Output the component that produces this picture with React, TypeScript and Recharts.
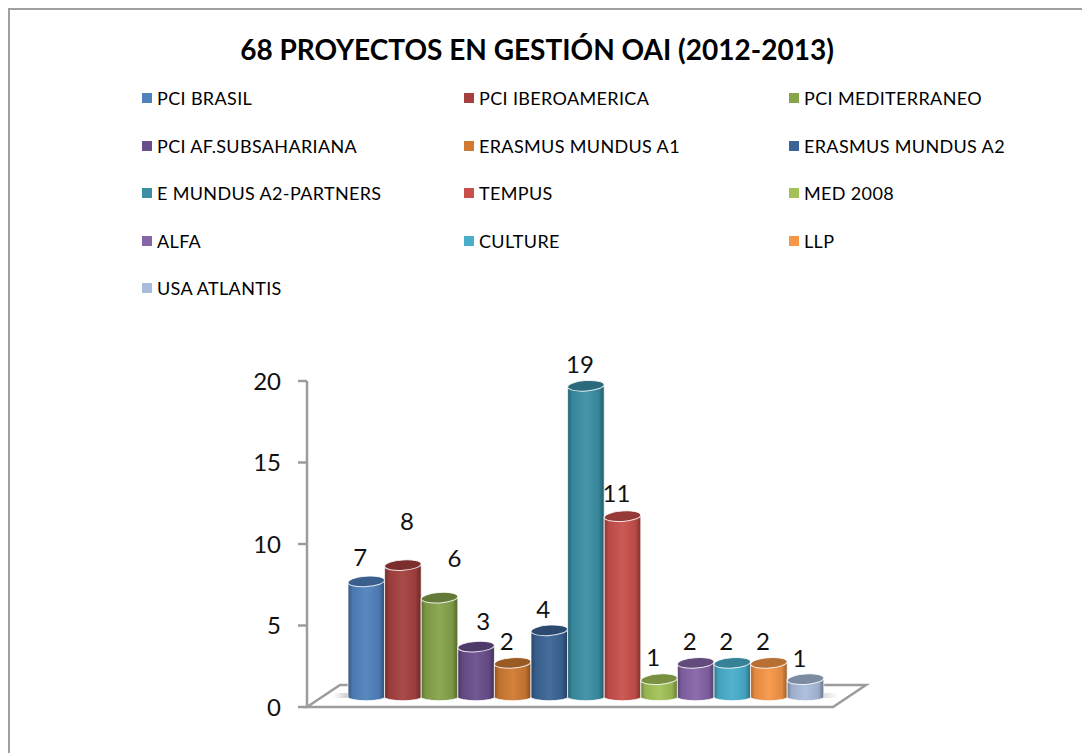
import React from 'react';
import { BarChart, Bar, XAxis, YAxis, Legend, LabelList, Customized } from 'recharts';

const chartTitle = '68 PROYECTOS EN GESTIÓN OAI (2012-2013)';
const seriesNames = ['PCI BRASIL', 'PCI IBEROAMERICA', 'PCI MEDITERRANEO', 'PCI AF.SUBSAHARIANA', 'ERASMUS MUNDUS A1', 'ERASMUS MUNDUS A2', 'E MUNDUS A2-PARTNERS', 'TEMPUS', 'MED 2008', 'ALFA', 'CULTURE', 'LLP', 'USA ATLANTIS'];
const seriesValues = [7, 8, 6, 3, 2, 4, 19, 11, 1, 2, 2, 2, 1];
const seriesColors = ['#4F81BD', '#A5403E', '#86A44A', '#6A4E8C', '#D07A31', '#3B6496', '#3A8FA5', '#C94F4C', '#A2C257', '#8664A8', '#48AECB', '#F79646', '#A9BCDB'];
const yTicks = [0, 5, 10, 15, 20];
const labelNudges: [number, number][] = [[-6, -28], [4, -48], [15, -44], [7, -30], [-6, -26], [-6, -25], [-6, -26], [-6, -27], [-6, -26], [-6, -26], [-6, -26], [-6, -26], [-6, -25]];

const row: Record<string, string | number> = { category: 'Proyectos' };
seriesNames.forEach((n, i) => { row[n] = seriesValues[i]; });
const rows = [row];

const W = 1072, H = 743;
const Y_AXIS_WIDTH = 60;
const margin = { top: 371, right: 249, bottom: 46, left: 237 };
const FONT = 'Lato, "Open Sans", sans-serif';
const AXIS = '#9c9c9c';
const SHIFT_X = 16, SHIFT_Y = -8;
const TOP_EXTRA = 3.5, BASE_EXTRA = 1;
const LEGEND_COLUMNS = [132, 454, 779];

function shade(hex: string, f: number) {
  const n = parseInt(hex.slice(1), 16);
  const ch = [(n >> 16) & 255, (n >> 8) & 255, n & 255].map((c) =>
    Math.round(f < 1 ? c * f : c + (255 - c) * (f - 1)));
  return `rgb(${ch.join(',')})`;
}

function Cylinder(props: any) {
  const { x, y, width, height, color, id } = props;
  const px = x + SHIFT_X, py = y + SHIFT_Y - TOP_EXTRA;
  const h = height + TOP_EXTRA - BASE_EXTRA;
  const rx = width / 2, ry = 5.2;
  const cx = px + rx;
  const body = `M${px},${py} V${py + h - 1} A${rx},${ry - 1.5} 0 0 0 ${px + width},${py + h - 1} V${py} Z`;
  return (
    <g>
      <defs>
        <linearGradient id={`cyl-${id}`} x1="0" x2="1" y1="0" y2="0">
          <stop offset="0" stopColor={shade(color, 0.68)} />
          <stop offset="0.12" stopColor={shade(color, 0.92)} />
          <stop offset="0.5" stopColor={shade(color, 1.06)} />
          <stop offset="0.85" stopColor={shade(color, 0.92)} />
          <stop offset="1" stopColor={shade(color, 0.62)} />
        </linearGradient>
      </defs>
      <path d={body} fill={`url(#cyl-${id})`} stroke="#ffffff" strokeOpacity={0.75} strokeWidth={1} />
      <ellipse cx={cx} cy={py} rx={rx} ry={ry} fill={shade(color, 0.74)} stroke="#ffffff" strokeOpacity={0.85} strokeWidth={1} transform={`rotate(-4 ${cx} ${py})`} />
    </g>
  );
}

function ValueLabel(props: any) {
  const { x, y, width, value, nudge } = props;
  return (
    <text x={x + width / 2 + SHIFT_X + nudge[0]} y={y + SHIFT_Y + nudge[1]} textAnchor="middle" dominantBaseline="central" fontFamily={FONT} fontSize={24} fill="#111">
      {value}
    </text>
  );
}

function Backdrop() {
  const left = margin.left + Y_AXIS_WIDTH, right = W - margin.right, bottom = H - margin.bottom;
  const pts = `${left},${bottom} ${right},${bottom} ${right + 33},${bottom - 22} ${left + 33},${bottom - 22}`;
  return (
    <g>
      <defs>
        <linearGradient id="floor-shadow" x1="0" x2="1" y1="0" y2="0">
          <stop offset="0" stopColor="#999" stopOpacity={0} />
          <stop offset="0.05" stopColor="#999" stopOpacity={0.85} />
          <stop offset="0.93" stopColor="#999" stopOpacity={0.85} />
          <stop offset="1" stopColor="#999" stopOpacity={0} />
        </linearGradient>
      </defs>
      <text x={527} y={39} textAnchor="middle" dominantBaseline="central" fontFamily={FONT} fontWeight={700} fontSize={28} fill="#000">
        {chartTitle}
      </text>
      <polygon points={pts} fill="#fff" stroke={AXIS} strokeWidth={2.5} />
      <rect x={left + 26} y={bottom - 14} width={505} height={5} fill="url(#floor-shadow)" />
    </g>
  );
}

function LegendGrid({ payload }: any) {
  return (
    <div style={{ position: 'relative', width: W, height: 300 }}>
      {(payload || []).map((item: any, i: number) => {
        const col = i % 3, rowIdx = Math.floor(i / 3);
        return (
          <div key={item.value} style={{ position: 'absolute', left: LEGEND_COLUMNS[col], top: 75 + rowIdx * 47.5, height: 26, display: 'flex', alignItems: 'center', whiteSpace: 'nowrap', fontFamily: FONT, fontSize: 18, letterSpacing: 0.35, color: '#000' }}>
            <span style={{ display: 'inline-block', width: 10, height: 10, background: item.color, marginRight: 5 }} />
            {item.value}
          </div>
        );
      })}
    </div>
  );
}

export default function App() {
  return (
    <div style={{ position: 'fixed', left: 0, top: 0, width: 1082, height: 753, overflow: 'hidden', background: '#fff' }}>
      <div style={{ position: 'absolute', left: 8, top: 8, width: W + 20, height: H + 20, borderLeft: '2px solid #a0a0a0', borderTop: '2px solid #a0a0a0' }}>
        <BarChart width={W} height={H} data={rows} margin={margin} barSize={36.6} barGap={0}>
          <Customized component={Backdrop} />
          <XAxis dataKey="category" tick={false} axisLine={false} tickLine={false} height={0} />
          <YAxis domain={[0, 20]} ticks={yTicks} width={Y_AXIS_WIDTH} tickSize={9} tickMargin={17} interval={0}
            axisLine={{ stroke: AXIS, strokeWidth: 2.5 }} tickLine={{ stroke: AXIS, strokeWidth: 2.5 }}
            tick={{ fontFamily: FONT, fontSize: 24, fill: '#111' }} />
          <Legend layout="horizontal" verticalAlign="middle" align="center" itemSorter={null} content={<LegendGrid />}
            wrapperStyle={{ position: 'absolute', left: 0, top: 0, width: W, height: 300 }} />
          {seriesNames.map((name, i) => (
            <Bar key={name} dataKey={name} name={name} fill={seriesColors[i]} isAnimationActive={false}
              shape={(p: any) => <Cylinder {...p} color={seriesColors[i]} id={i} />}>
              <LabelList dataKey={name} content={(p: any) => <ValueLabel {...p} nudge={labelNudges[i]} />} />
            </Bar>
          ))}
        </BarChart>
      </div>
    </div>
  );
}
